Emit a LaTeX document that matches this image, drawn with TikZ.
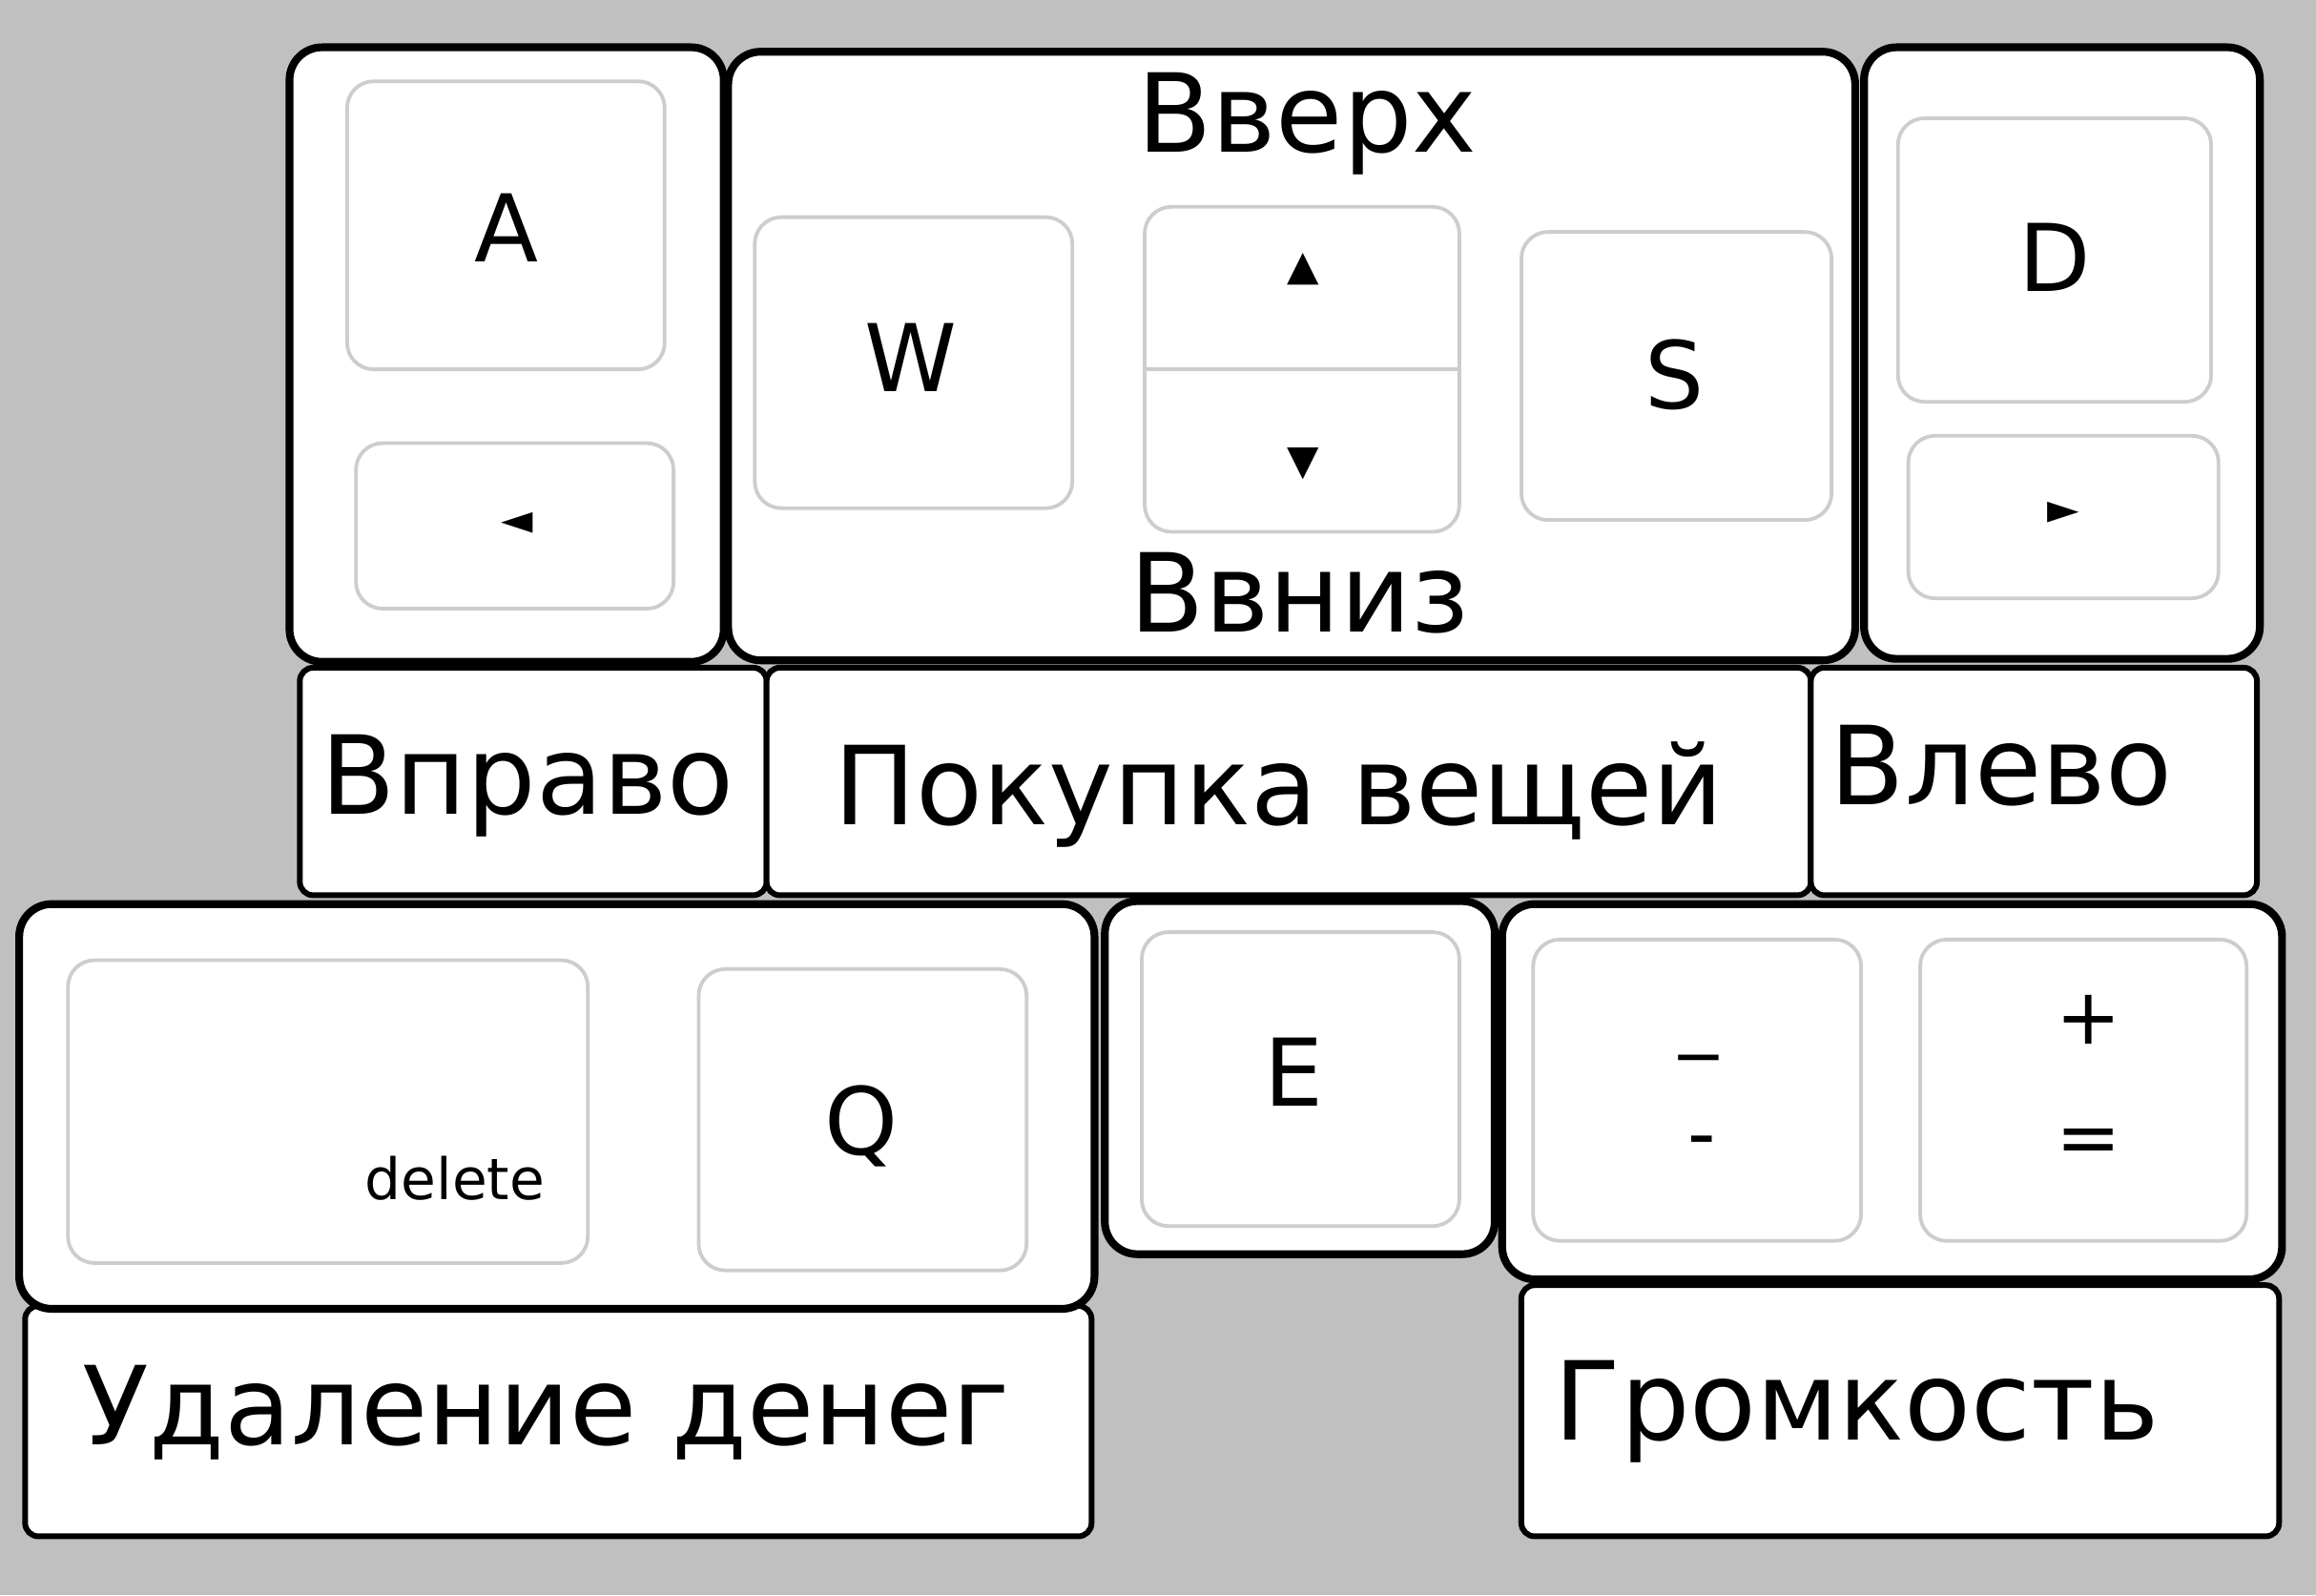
\documentclass[tikz,border=0pt]{standalone}
\usepackage{fontspec}
\setmainfont{DejaVu Sans}
\definecolor{tecladoFondo}{HTML}{C0C0C0}
\definecolor{tecladoBorde}{HTML}{CDCDCD}
\usetikzlibrary{fit}
\tikzset{
	bloque/.style={
		draw=black,
		line width=1.5pt,
		rounded corners=2.2mm,
		fill=white,
		inner sep=0pt
	},
	rotulo/.style={
		draw=black,
		line width=1.1pt,
		rounded corners=0.9mm,
		fill=white,
		inner sep=0pt
	},
	tecla/.style={
		draw=tecladoBorde,
		line width=0.7pt,
		rounded corners=1.8mm,
		fill=white,
		inner sep=0pt
	},
	texto/.style={
		font=\fontsize{21}{25}\selectfont,
		anchor=base,
		inner sep=0pt
	},
	letra/.style={
		font=\fontsize{18}{21}\selectfont,
		anchor=base,
		inner sep=0pt
	},
	signo/.style={
		font=\fontsize{15}{18}\selectfont,
		inner sep=0pt
	},
	punta/.style={
		font=\fontsize{8}{10}\selectfont,
		inner sep=0pt
	}
}

\begin{document}
\begin{tikzpicture}[x=0.1mm, y=-0.1mm]
		\fill[tecladoFondo] (0,0) rectangle (1568,1080);

		% нижние подписи (под блоками клавиш)
		\node[rotulo, fit={(17,884) (739,1040)}] (rUdal) {};
		\node[texto] (tUdal) at (370,978) {Удаление денег};
		\node[rotulo, fit={(1030,870) (1543,1040)}] (rGrom) {};
		\node[texto] (tGrom) at (1257,975) {Громкость};

		% третий ряд
		\node[bloque, fit={(13,612) (741,886)}] (bDel) {};
		\node[tecla, fit={(46,650) (398,855)}] (kDel) {};
		\node[font=\fontsize{11}{13}\selectfont, anchor=base, inner sep=0pt] (tDel) at (308,812) {delete};
		\node[tecla, fit={(473,656) (695,860)}] (kQ) {};
		\node[letra] (tQ) at (583,782) {Q};

		\node[bloque, fit={(748,610) (1012,849)}] (bE) {};
		\node[tecla, fit={(773,631) (988,830)}] (kE) {};
		\node[letra] (tE) at (876,749) {E};

		\node[bloque, fit={(1017,612) (1545,866)}] (bVol) {};
		\node[tecla, fit={(1038,636) (1260,840)}] (kMenos) {};
		\node[signo] (tSub) at (1150,712) {\_};
		\node[signo] (tMenos) at (1152,777) {-};
		\node[tecla, fit={(1300,636) (1521,840)}] (kMas) {};
		\node[signo] (tMas) at (1414,690) {+};
		\node[signo] (tIgual) at (1414,776) {=};

		% второй ряд: подписи
		\node[rotulo, fit={(203,452) (519,606)}] (rDer) {};
		\node[texto] (tDer) at (357,551) {Вправо};
		\node[rotulo, fit={(519,452) (1226,606)}] (rCompra) {};
		\node[texto] (tCompra) at (866,558) {Покупка вещей};
		\node[rotulo, fit={(1226,452) (1528,606)}] (rIzq) {};
		\node[texto] (tIzq) at (1355,545) {Влево};

		% верхний ряд
		\node[bloque, fit={(196,32) (490,448)}] (bIzq) {};
		\node[tecla, fit={(235,55) (450,250)}] (kA) {};
		\node[letra] (tA) at (343,177) {A};
		\node[tecla, fit={(241,300) (456,412)}] (kFlechaIzq) {};
		\node[punta] (pIzq) at (350,354) {◄};

		\node[bloque, fit={(493,35) (1256,447)}] (bCentro) {};
		\node[texto] (tArriba) at (885,103) {Вверх};
		\node[texto] (tAbajo) at (880,428) {Ввниз};
		\node[tecla, fit={(511,147) (726,344)}] (kW) {};
		\node[letra] (tW) at (617,265) {W};
		\node[tecla, fit={(775,140) (988,360)}] (kFlechas) {};
		\draw[tecladoBorde, line width=0.7pt] (kFlechas.west) -- (kFlechas.east);
		\node[punta] (pArriba) at (882,182) {▲};
		\node[punta] (pAbajo) at (882,314) {▼};
		\node[tecla, fit={(1030,157) (1240,352)}] (kS) {};
		\node[letra] (tS) at (1134,277) {S};

		\node[bloque, fit={(1262,32) (1530,446)}] (bDer) {};
		\node[tecla, fit={(1285,80) (1497,272)}] (kD) {};
		\node[letra] (tD) at (1391,197) {D};
		\node[tecla, fit={(1292,295) (1502,405)}] (kFlechaDer) {};
		\node[punta] (pDer) at (1397,347) {►};
	\end{tikzpicture}
\end{document}
